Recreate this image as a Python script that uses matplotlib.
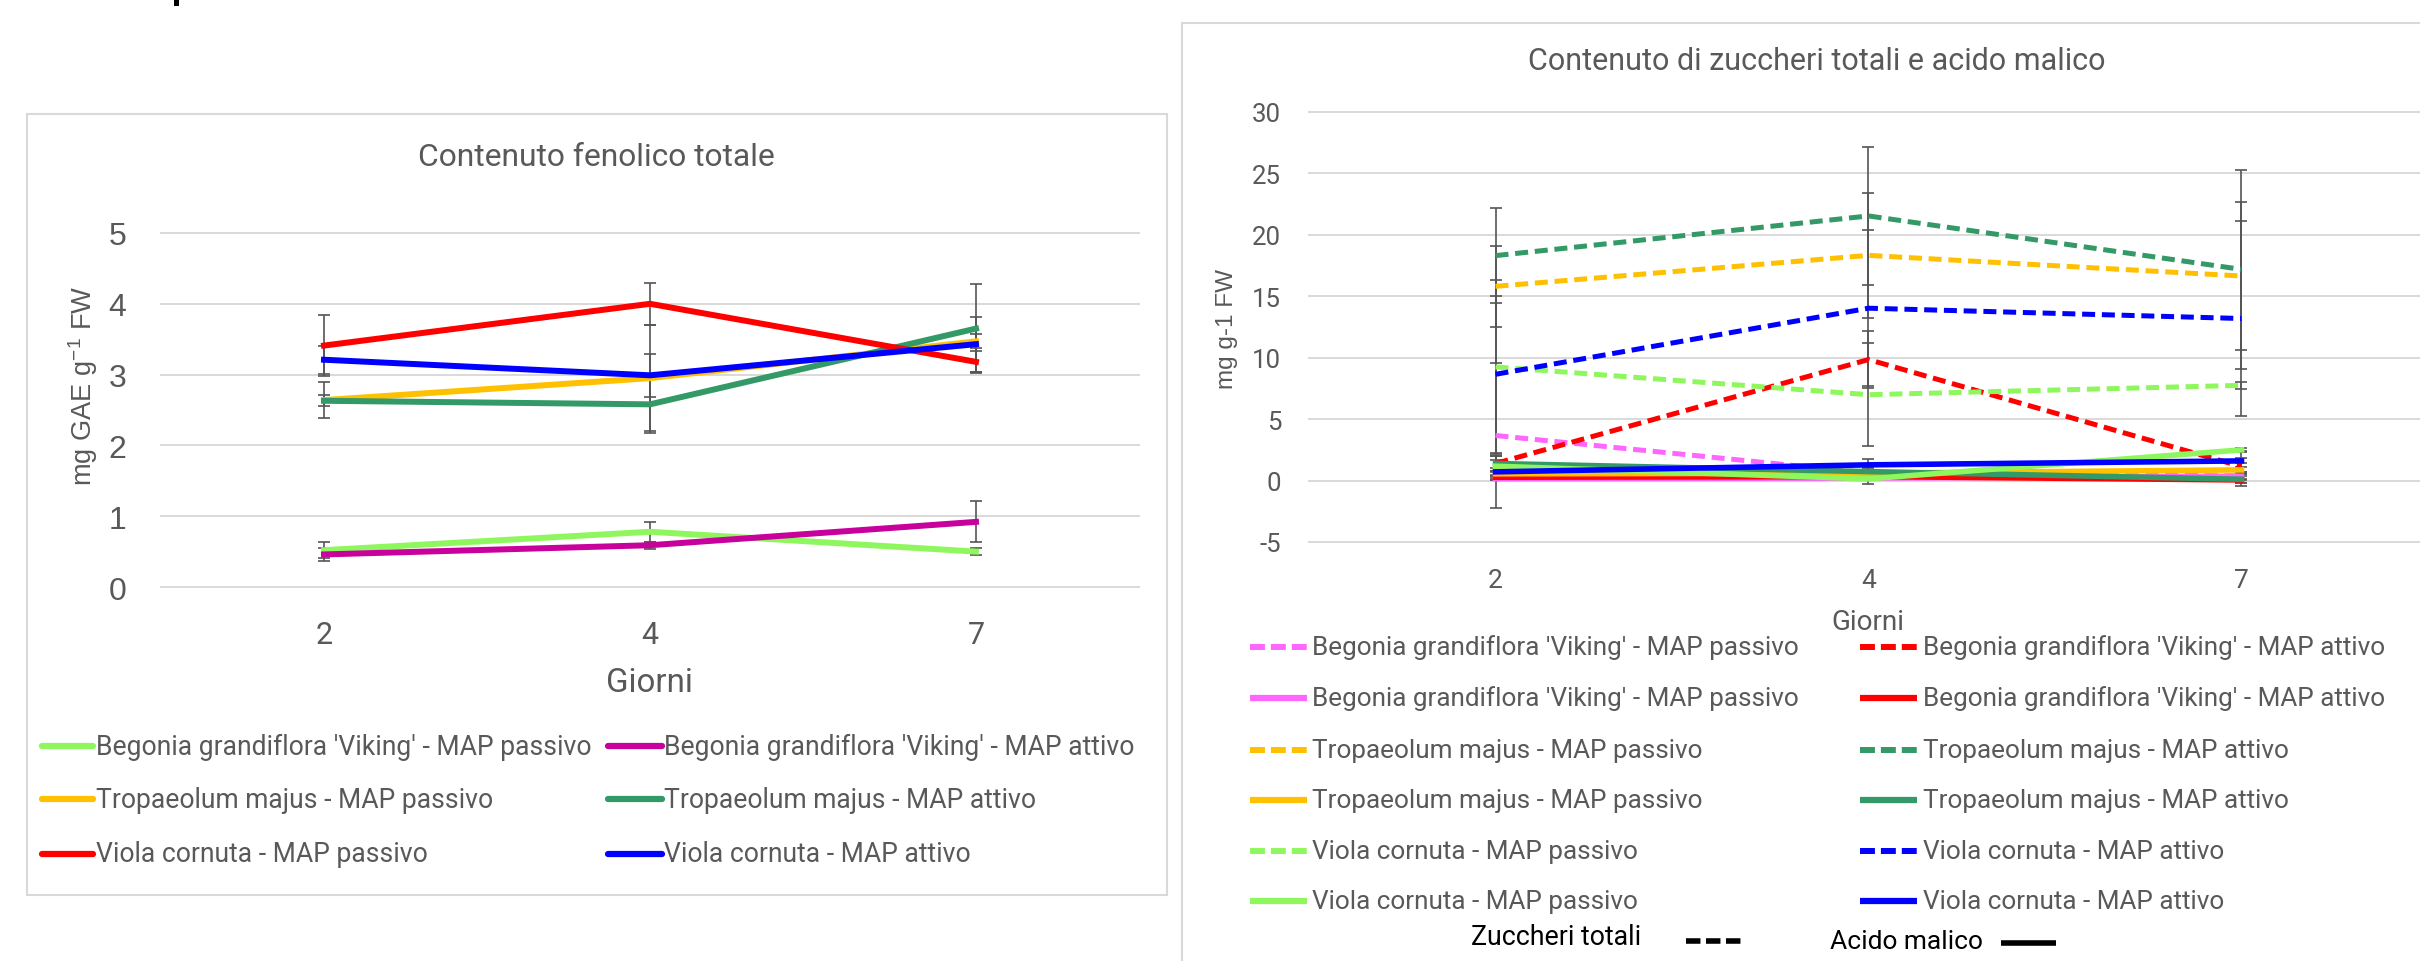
import matplotlib
matplotlib.use('Agg')
import matplotlib.pyplot as plt
from matplotlib.lines import Line2D
from matplotlib.patches import Rectangle
import numpy as np

plt.rcParams['mathtext.fontset'] = 'custom'
plt.rcParams['mathtext.rm'] = 'Liberation Sans'

# ---------------- data ----------------
days = ['2', '4', '7']

# Contenuto fenolico totale (mg GAE g-1 FW)
fen_beg_pass = [0.52, 0.78, 0.50]
fen_beg_pass_err = [0.11, 0.14, 0.05]
fen_beg_att = [0.46, 0.59, 0.92]
fen_beg_att_err = [0.09, 0.05, 0.29]
fen_tro_pass = [2.64, 2.95, 3.47]
fen_tro_pass_err = [0.26, 0.75, 0.10]
fen_tro_att = [2.63, 2.58, 3.65]
fen_tro_att_err = [0.08, 0.40, 0.63]
fen_vio_pass = [3.41, 4.00, 3.18]
fen_vio_pass_err = [0.43, 0.30, 0.15]
fen_vio_att = [3.21, 2.99, 3.43]
fen_vio_att_err = [0.20, 0.30, 0.39]

# Zuccheri totali (dashed) (mg g-1 FW)
zuc_beg_pass = [3.67, 0.62, 0.38]
zuc_beg_pass_err = [5.90, 0.40, 0.30]
zuc_beg_att = [1.39, 9.85, 1.14]
zuc_beg_att_err = [0.60, 2.30, 1.30]
zuc_tro_pass = [15.81, 18.33, 16.65]
zuc_tro_pass_err = [3.30, 5.10, 6.00]
zuc_tro_att = [18.31, 21.54, 17.19]
zuc_tro_att_err = [3.88, 5.60, 8.10]
zuc_vio_pass = [9.25, 6.99, 7.75]
zuc_vio_pass_err = [7.08, 4.20, 0.27]
zuc_vio_att = [8.65, 14.03, 13.19]
zuc_vio_att_err = [6.40, 6.37, 7.95]

# Acido malico (solid)
mal_beg_pass = [0.15, 0.20, 0.35]
mal_beg_pass_err = [0.10, 0.10, 0.20]
mal_beg_att = [0.27, 0.33, 0.05]
mal_beg_att_err = [0.20, 0.30, 0.50]
mal_tro_pass = [0.55, 0.60, 0.87]
mal_tro_pass_err = [0.20, 0.30, 0.20]
mal_tro_att = [1.39, 0.73, 0.11]
mal_tro_att_err = [0.60, 0.40, 0.30]
mal_vio_pass = [1.17, 0.14, 2.50]
mal_vio_pass_err = [0.50, 0.44, 0.14]
mal_vio_att = [0.71, 1.28, 1.60]
mal_vio_att_err = [0.30, 0.50, 0.20]

lab_beg_pass = "Begonia grandiflora 'Viking' - MAP passivo"
lab_beg_att = "Begonia grandiflora 'Viking' - MAP attivo"
lab_tro_pass = "Tropaeolum majus - MAP passivo"
lab_tro_att = "Tropaeolum majus - MAP attivo"
lab_vio_pass = "Viola cornuta - MAP passivo"
lab_vio_att = "Viola cornuta - MAP attivo"

# ---------------- style ----------------
C_LGREEN = '#8FF75E'
C_MAGENTA = '#C8009C'
C_ORANGE = '#FFC000'
C_DGREEN = '#339966'
C_RED = '#FF0000'
C_BLUE = '#0000FF'
C_PINK = '#FF66FF'
GRAY = '#595959'
GRID = '#D9D9D9'
EBAR = '#555555'
AP = ['Roboto', 'DejaVu Sans']
AR = ['Liberation Sans', 'DejaVu Sans']

W, H = 2420, 962
fig = plt.figure(figsize=(W / 100, H / 100), dpi=100)
fig.patch.set_facecolor('white')
renderer = fig.canvas.get_renderer()


def fx(px):
    return px / W


def fy(py):
    return 1 - py / H


def fit_size(s, target, family, base=20, rotation=0):
    t = fig.text(0, 0, s, family=family, fontsize=base, rotation=rotation)
    bb = t.get_window_extent(renderer)
    w = bb.height if rotation == 90 else bb.width
    t.remove()
    return base * target / w


def fit_text(x, y, s, target, family=AP, color=GRAY, ha='center', va='center', rotation=0):
    size = fit_size(s, target, family, rotation=rotation)
    return fig.text(fx(x), fy(y), s, family=family, color=color, ha=ha, va=va,
                    rotation=rotation, fontsize=size)


# chart boxes
fig.patches.append(Rectangle((fx(27), fy(896)), (1167 - 27) / W, (896 - 115) / H,
                             transform=fig.transFigure, fill=False, edgecolor=GRID, lw=1.5))
fig.patches.append(Rectangle((fx(1182), fy(975)), (2440 - 1182) / W, (975 - 24) / H,
                             transform=fig.transFigure, fill=False, edgecolor=GRID, lw=1.5))
# fragment of cropped text at the top
fig.patches.append(Rectangle((fx(174), fy(7)), 5 / W, 8 / H, transform=fig.transFigure,
                             facecolor='black', edgecolor='none'))

x = np.arange(len(days))
LW_L = 4.3
LW_D = 3.6
LW_S = 4.0
DASH = (2.6, 1.35)
EB = dict(fmt='none', ecolor=EBAR, elinewidth=1.2, capsize=4.3, capthick=1.2)

# ---------------- left chart ----------------
ax1 = fig.add_axes([fx(161), fy(588), (1139 - 161) / W, (588 - 234) / H])
ax1.set_facecolor('none')
ax1.set_xlim(-0.5, 2.5)
ax1.set_ylim(0, 5)
ax1.set_yticks(range(0, 6))
ax1.set_xticks(x)
ax1.set_xticklabels(days, family=AP, fontsize=22, color=GRAY)
ax1.set_yticklabels([str(v) for v in range(0, 6)], family=AR, fontsize=23, color=GRAY)
ax1.tick_params(axis='both', length=0)
ax1.tick_params(axis='y', pad=25)
ax1.tick_params(axis='x', pad=24)
for sp in ax1.spines.values():
    sp.set_visible(False)
ax1.yaxis.grid(True, color=GRID, lw=1.4)
ax1.set_axisbelow(True)
for gl in ax1.get_ygridlines():
    gl.set_clip_on(False)

left_series = [
    (fen_beg_pass, fen_beg_pass_err, C_LGREEN, lab_beg_pass),
    (fen_beg_att, fen_beg_att_err, C_MAGENTA, lab_beg_att),
    (fen_tro_pass, fen_tro_pass_err, C_ORANGE, lab_tro_pass),
    (fen_tro_att, fen_tro_att_err, C_DGREEN, lab_tro_att),
    (fen_vio_pass, fen_vio_pass_err, C_RED, lab_vio_pass),
    (fen_vio_att, fen_vio_att_err, C_BLUE, lab_vio_att),
]
for i, (vals, err, c, lab) in enumerate(left_series):
    ax1.errorbar(x, vals, yerr=err, zorder=2, **EB)
for i, (vals, err, c, lab) in enumerate(left_series):
    ax1.plot(x, vals, color=c, lw=LW_L, zorder=3 + i, solid_joinstyle='round', clip_on=False)

fit_text(596, 158, 'Contenuto fenolico totale', 357)
fit_text(649, 683, 'Giorni', 87)
fit_text(83, 386, r'mg GAE g$^{\mathrm{-1}}$ FW', 200, family=AR, rotation=90)

# left legend
leg_size = fit_size(lab_beg_pass, 495, AP)
rows_l = [747, 800, 855]
cols_l = [(42, 93, 96), (608, 662, 664)]
for k, (vals, err, c, lab) in enumerate(left_series):
    r, cidx = divmod(k, 2)
    h0, h1, tx = cols_l[cidx]
    yy = rows_l[r]
    fig.lines.append(Line2D([fx(h0), fx(h1)], [fy(yy), fy(yy)], transform=fig.transFigure,
                            color=c, lw=4.5, solid_capstyle='round'))
    fig.text(fx(tx), fy(yy), lab, family=AP, fontsize=leg_size, color=GRAY, ha='left', va='center')

# ---------------- right chart ----------------
ax2 = fig.add_axes([fx(1309), fy(543), (2428 - 1309) / W, (543 - 113) / H])
ax2.set_facecolor('none')
ax2.set_xlim(-0.5, 2.5)
ax2.set_ylim(-5, 30)
yt = list(range(-5, 31, 5))
ax2.set_yticks(yt)
ax2.set_xticks(x)
ax2.set_xticklabels(days, family=AP, fontsize=19, color=GRAY)
ax2.set_yticklabels([str(v) for v in yt], family=AP, fontsize=18.5, color=GRAY)
ax2.tick_params(axis='both', length=0)
ax2.tick_params(axis='y', pad=20)
ax2.tick_params(axis='x', pad=19)
for sp in ax2.spines.values():
    sp.set_visible(False)
ax2.yaxis.grid(True, color=GRID, lw=1.4)
ax2.set_axisbelow(True)
for gl in ax2.get_ygridlines():
    gl.set_clip_on(False)

right_series = [
    (zuc_beg_pass, zuc_beg_pass_err, C_PINK, True, lab_beg_pass),
    (zuc_beg_att, zuc_beg_att_err, C_RED, True, lab_beg_att),
    (mal_beg_pass, mal_beg_pass_err, C_PINK, False, lab_beg_pass),
    (mal_beg_att, mal_beg_att_err, C_RED, False, lab_beg_att),
    (zuc_tro_pass, zuc_tro_pass_err, C_ORANGE, True, lab_tro_pass),
    (zuc_tro_att, zuc_tro_att_err, C_DGREEN, True, lab_tro_att),
    (mal_tro_pass, mal_tro_pass_err, C_ORANGE, False, lab_tro_pass),
    (mal_tro_att, mal_tro_att_err, C_DGREEN, False, lab_tro_att),
    (zuc_vio_pass, zuc_vio_pass_err, C_LGREEN, True, lab_vio_pass),
    (zuc_vio_att, zuc_vio_att_err, C_BLUE, True, lab_vio_att),
    (mal_vio_pass, mal_vio_pass_err, C_LGREEN, False, lab_vio_pass),
    (mal_vio_att, mal_vio_att_err, C_BLUE, False, lab_vio_att),
]
for vals, err, c, dashed, lab in right_series:
    ax2.errorbar(x, vals, yerr=err, zorder=2, **EB)
for i, (vals, err, c, dashed, lab) in enumerate(right_series):
    if dashed:
        ax2.plot(x, vals, color=c, lw=LW_D, dashes=DASH, zorder=3 + i, dash_capstyle='butt')
    else:
        ax2.plot(x, vals, color=c, lw=LW_S, zorder=3 + i, solid_joinstyle='round')

fit_text(1817, 61, 'Contenuto di zuccheri totali e acido malico', 576)
fit_text(1868, 623, 'Giorni', 73)
fit_text(1227, 329, 'mg g-1 FW', 120, family=AR, rotation=90)

# right legend
leg2_size = fit_size(lab_beg_pass, 487, AP)
rows_r = [648, 699, 751, 801, 852, 902]
cols_r = [(1250, 1307, 1312), (1860, 1917, 1923)]
for k, (vals, err, c, dashed, lab) in enumerate(right_series):
    r, cidx = divmod(k, 2)
    h0, h1, tx = cols_r[cidx]
    yy = rows_r[r]
    if dashed:
        ln = Line2D([fx(h0), fx(h1)], [fy(yy), fy(yy)], transform=fig.transFigure,
                    color=c, lw=4.3, dashes=(2.5, 1.0), dash_capstyle='butt')
    else:
        ln = Line2D([fx(h0), fx(h1)], [fy(yy), fy(yy)], transform=fig.transFigure,
                    color=c, lw=4.5, solid_capstyle='butt')
    fig.lines.append(ln)
    fig.text(fx(tx), fy(yy), lab, family=AP, fontsize=leg2_size, color=GRAY, ha='left', va='center')

# footer keys
fit_text(1556, 938, 'Zuccheri totali', 170, color='black')
fig.lines.append(Line2D([fx(1686), fx(1741)], [fy(942), fy(942)], transform=fig.transFigure,
                        color='black', lw=4.0, dashes=(2.6, 1.0), dash_capstyle='butt'))
fit_text(1906, 942, 'Acido malico', 153, color='black')
fig.lines.append(Line2D([fx(2001), fx(2056)], [fy(944), fy(944)], transform=fig.transFigure,
                        color='black', lw=4.0, solid_capstyle='butt'))

fig.savefig('out.png', dpi=100, facecolor='white')
